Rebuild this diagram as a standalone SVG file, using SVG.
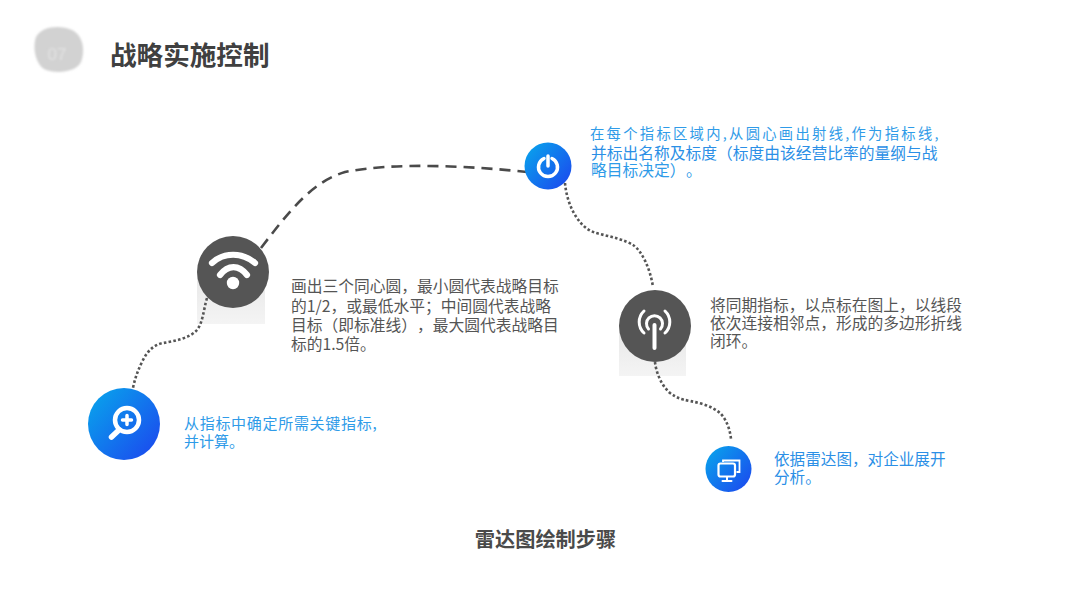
<svg xmlns="http://www.w3.org/2000/svg" width="1080" height="608" viewBox="0 0 1080 608">
<style>
text{font-family:"Noto Sans CJK SC","Liberation Sans",sans-serif;text-spacing-trim:space-all}
.b{fill:#2f9be8;font-size:15.2px}
.g{fill:#555;font-size:15.75px}
.dot{fill:none;stroke:#555;stroke-width:2.6;stroke-dasharray:2.6 2.2}
.w{fill:none;stroke:#fff;stroke-linecap:round}
.sh{fill:url(#sg)}
</style>
<defs>
<linearGradient id="bg" x1="0.1" y1="0.15" x2="0.9" y2="0.85"><stop offset="0" stop-color="#0a9cec"/><stop offset="1" stop-color="#1a50ee"/></linearGradient>
<linearGradient id="sg" x1="0" y1="0" x2="0" y2="1"><stop offset="0" stop-color="#e6e6e6"/><stop offset="1" stop-color="#f4f4f4"/></linearGradient>
<filter id="soft" x="-20%" y="-20%" width="140%" height="140%"><feGaussianBlur stdDeviation="1.2"/></filter>
</defs>
<rect width="1080" height="608" fill="#fff"/>
<g id="header">
<path d="M36 37C42 26 60 25 72 30C84 36 85 52 81 62C76 72 58 74 46 70C36 66 32 48 36 37Z" fill="#d2d2d2" filter="url(#soft)"/>
<text x="57" y="60" font-size="17" fill="#e2e2e2" text-anchor="middle" filter="url(#soft)" style="font-family:'Liberation Sans',sans-serif">07</text>
<text x="110" y="65" font-size="26.6" font-weight="700" fill="#404040">战略实施控制</text>
</g>
<g id="shadows">
<rect class="sh" x="197" y="270" width="68" height="54"/>
<rect class="sh" x="619" y="325" width="67" height="51"/>
</g>
<g id="connectors">
<path d="M261 248C290 210 312 182 345 172C395 162 470 166 527 172" fill="none" stroke="#4a4a4a" stroke-width="2.600" stroke-dasharray="11 7"/>
<path class="dot" d="M207 298C203 312 203 322 197 330C190 338 175 341 163 343C153 345 147 352 143 360C138 370 135 378 133 388"/>
<path class="dot" d="M565 183C566 195 570 208 577 218C583 227 590 232 600 234C612 237 625 240 633 245C642 251 650 268 653 287"/>
<path class="dot" d="M655 362C656 372 661 385 670 393C677 398 680 399 690 401C700 403 712 406 720 413C727 420 730 430 731 439"/>
</g>
<g id="node-search">
<circle cx="124" cy="424" r="36" fill="url(#bg)"/>
<circle cx="127" cy="420" r="12" class="w" stroke-width="4.500"/>
<path class="w" d="M119 430L111.500 437" stroke-width="5.500"/>
<path class="w" d="M122.500 420H131.500M127 415.500V424.500" stroke-width="3.500"/>
<text class="b" style="font-size:15px;letter-spacing:.7px"><tspan x="184" y="429">从指标中确定所需关键指标,</tspan></text>
<text class="b" x="184" y="447" style="font-size:15px">并计算。</text>
</g>
<g id="node-wifi">
<circle cx="233" cy="272" r="36" fill="#555"/>
<circle cx="233" cy="283" r="6.200" fill="#fff"/>
<path class="w" d="M212 263C224 252 242 252 255 263" stroke-width="6.200"/>
<path class="w" d="M220 275C228 264.500 239 264.500 247 275" stroke-width="6.200"/>
<text class="g"><tspan x="291" y="292">画出三个同心圆，最小圆代表战略目标</tspan><tspan x="291" y="312">的1/2，或最低水平；中间圆代表战略</tspan><tspan x="291" y="331">目标（即标准线），最大圆代表战略目</tspan><tspan x="291" y="350">标的1.5倍。</tspan></text>
</g>
<g id="node-power">
<circle cx="548" cy="166" r="23.500" fill="url(#bg)"/>
<path class="w" d="M544 158.500A9.500 9.500 0 1 0 552 158.500" stroke-width="3.500"/>
<path class="w" d="M548 156V166" stroke-width="3.500"/>
<text class="b"><tspan x="590" y="139" style="font-size:14.300px;letter-spacing:2.300px">在每个指标区域内,从圆心画出射线,作为指标线,</tspan><tspan x="591" y="159" style="font-size:15.750px;fill:#2b8fe6">并标出名称及标度（标度由该经营比率的量纲与战</tspan><tspan x="591" y="176" style="font-size:15.750px">略目标决定）</tspan><tspan x="686" y="176" style="font-size:15.750px">。</tspan></text>
</g>
<g id="node-antenna">
<circle cx="655" cy="326" r="36" fill="#555"/>
<path class="w" d="M654.500 325V348" stroke-width="4"/>
<path class="w" d="M648.500 329A8 8 0 1 1 660.500 329" stroke-width="3"/>
<path class="w" d="M644 311A15 15 0 0 0 644 333M665 311A15 15 0 0 1 665 333" stroke-width="3"/>
<text class="g"><tspan x="710" y="311">将同期指标，以点标在图上，以线段</tspan><tspan x="710" y="329">依次连接相邻点，形成的多边形折线</tspan><tspan x="710" y="347">闭环。</tspan></text>
</g>
<g id="node-monitor">
<circle cx="728.500" cy="469" r="23" fill="url(#bg)"/>
<path d="M723 462V460.500H739.500V472H736.500" fill="none" stroke="#fff" stroke-width="1.800"/>
<rect x="718.500" y="463.500" width="16.500" height="13" rx="2" fill="none" stroke="#fff" stroke-width="2.200"/>
<path class="w" d="M727 477V480.500M722.500 481H731.500" stroke-width="2"/>
<text class="b" style="font-size:15.600px;fill:#2b8fe6"><tspan x="774" y="465">依据雷达图，对企业展开</tspan><tspan x="774" y="483">分析。</tspan></text>
</g>
<text x="545.500" y="547" font-size="20.200" font-weight="700" fill="#4a4a4a" text-anchor="middle">雷达图绘制步骤</text>
</svg>
